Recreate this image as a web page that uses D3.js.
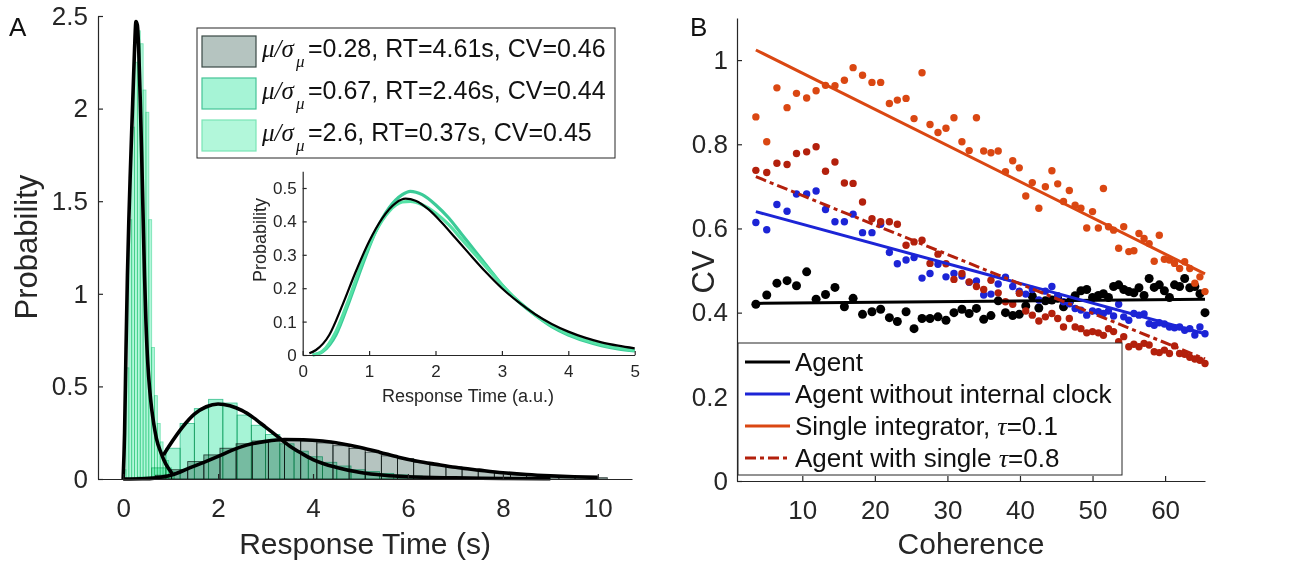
<!DOCTYPE html>
<html>
<head>
<meta charset="utf-8">
<script src="https://cdn.jsdelivr.net/npm/d3@7/dist/d3.min.js"></script>
<style>
body { margin: 0; background: #fff; }
svg { font-family: Arial, "Liberation Sans", sans-serif; }
</style>
</head>
<body>
<svg id="fig" width="1290" height="563"></svg>
<script>
// ---------- panel A data ----------
const binW1 = 0.34; // mu/sigma = 0.28
const hist1 = [0.0, 0.005, 0.02, 0.05, 0.094, 0.13, 0.166, 0.19, 0.205, 0.21, 0.21, 0.205, 0.195, 0.18, 0.165,
    0.145, 0.125, 0.11, 0.09, 0.075, 0.065, 0.05, 0.04, 0.032, 0.024, 0.02, 0.015, 0.012, 0.009, 0.007];
const binW2 = 0.3; // mu/sigma = 0.67
const hist2 = [0.0, 0.01, 0.06, 0.166, 0.30, 0.38, 0.43, 0.41, 0.345, 0.29, 0.24, 0.19, 0.15, 0.12, 0.09,
    0.07, 0.05, 0.04, 0.03, 0.022, 0.016, 0.012, 0.009, 0.007, 0.005, 0.004, 0.003, 0.002, 0.002, 0.001];
const binW3 = 0.06; // mu/sigma = 2.6
const hist3 = [0.05, 0.6, 1.4, 1.9, 2.25, 2.42, 2.35, 2.1, 1.98, 1.4, 0.71, 0.45, 0.3, 0.2, 0.14, 0.1, 0.06, 0.04];

const fit1X = [0, 0.4, 0.7, 1.0, 1.2, 1.4, 1.7, 2.0, 2.3, 2.6, 3.0, 3.4, 3.8, 4.2, 4.6, 5.0, 5.4, 5.8, 6.2, 6.6, 7.0, 7.5, 8.0, 8.5, 9.0, 9.5, 10.0];
const fit1Y = [0, 0.001, 0.006, 0.02, 0.038, 0.06, 0.09, 0.122, 0.156, 0.183, 0.203, 0.213, 0.212, 0.205, 0.19, 0.17, 0.145, 0.118, 0.096, 0.079, 0.063, 0.048, 0.034, 0.024, 0.017, 0.012, 0.009];
const fit2X = [0.85, 1.0, 1.25, 1.5, 1.75, 2.0, 2.25, 2.5, 2.75, 3.0, 3.25, 3.5, 3.75, 4.0, 4.5, 5.0, 5.5, 6.0, 7.0, 8.0, 9.0];
const fit2Y = [0.13, 0.19, 0.28, 0.35, 0.39, 0.405, 0.395, 0.37, 0.33, 0.28, 0.23, 0.18, 0.14, 0.105, 0.062, 0.035, 0.02, 0.012, 0.006, 0.003, 0.001];
const fit3X = [0.0, 0.03, 0.06, 0.09, 0.12, 0.15, 0.18, 0.21, 0.24, 0.27, 0.3, 0.33, 0.36, 0.39, 0.42, 0.45, 0.48, 0.52, 0.56, 0.6, 0.65, 0.7, 0.8, 0.9, 1.0, 1.05];
const fit3Y = [0, 0.25, 0.7, 1.1, 1.4, 1.65, 1.88, 2.1, 2.32, 2.47, 2.45, 2.3, 2.05, 1.75, 1.42, 1.1, 0.85, 0.62, 0.48, 0.38, 0.29, 0.22, 0.14, 0.08, 0.04, 0.02];

const legendA = [
    { sub: "=0.28, RT=4.61s, CV=0.46" },
    { sub: "=0.67, RT=2.46s, CV=0.44" },
    { sub: "=2.6, RT=0.37s, CV=0.45" }
];
const ticksAx = [0, 2, 4, 6, 8, 10];
const ticksAy = [0, 0.5, 1, 1.5, 2, 2.5];

// inset
const insetX = [0.1, 0.2, 0.4, 0.6, 0.8, 1.0, 1.2, 1.4, 1.55, 1.7, 1.9, 2.1, 2.3, 2.5, 2.75, 3.0, 3.25, 3.5, 3.75, 4.0, 4.25, 4.5, 4.75, 5.0];
const insetBlack = [0.005, 0.015, 0.06, 0.15, 0.25, 0.34, 0.41, 0.455, 0.468, 0.462, 0.435, 0.395, 0.35, 0.305, 0.25, 0.2, 0.158, 0.122, 0.093, 0.07, 0.052, 0.038, 0.028, 0.02];
const insetGreenX = [0.15, 0.3, 0.5, 0.7, 0.9, 1.1, 1.3, 1.5, 1.62, 1.8, 2.0, 2.2, 2.4, 2.6, 2.8, 3.0, 3.25, 3.5, 3.75, 4.0, 4.25, 4.5, 4.75, 5.0];
const insetGreen1 = [0.0, 0.01, 0.06, 0.16, 0.27, 0.37, 0.44, 0.48, 0.49, 0.48, 0.45, 0.41, 0.36, 0.31, 0.26, 0.21, 0.16, 0.12, 0.085, 0.06, 0.042, 0.028, 0.018, 0.012];
const insetGreen2 = [0.0, 0.012, 0.07, 0.17, 0.28, 0.37, 0.43, 0.458, 0.46, 0.45, 0.425, 0.39, 0.345, 0.3, 0.255, 0.21, 0.16, 0.12, 0.088, 0.063, 0.045, 0.031, 0.021, 0.014];
const insetTicksX = [0, 1, 2, 3, 4, 5];
const insetTicksY = [0, 0.1, 0.2, 0.3, 0.4, 0.5];

// ---------- panel B data ----------
const coherence = [3.6, 5.1, 6.5, 7.9, 9.2, 10.6, 11.9, 13.2, 14.5, 15.8, 17.0, 18.3, 19.6, 20.8, 22.0, 23.1,
    24.3, 25.4, 26.5, 27.6, 28.7, 29.8, 30.9, 32.0, 33.0, 34.0, 35.0, 36.0, 37.0, 38.0, 39.0, 39.9, 40.8, 41.7,
    42.6, 43.5, 44.4, 45.2, 46.0, 46.8, 47.6, 48.4, 49.2, 50.0, 50.8, 51.5, 52.2, 52.9, 53.6, 54.3, 55.0, 55.7,
    56.4, 57.1, 57.8, 58.5, 59.2, 59.9, 60.6, 61.3, 62.0, 62.7, 63.4, 64.1, 64.8, 65.5];
const agentCV = [0.420, 0.442, 0.470, 0.476, 0.464, 0.497, 0.432, 0.443, 0.460, 0.414, 0.434, 0.396, 0.402, 0.408, 0.388, 0.379,
    0.402, 0.362, 0.386, 0.386, 0.390, 0.382, 0.400, 0.408, 0.398, 0.410, 0.384, 0.393, 0.428, 0.400, 0.393, 0.396, 0.416, 0.439,
    0.411, 0.428, 0.430, 0.434, 0.414, 0.425, 0.440, 0.452, 0.455, 0.436, 0.441, 0.445, 0.436, 0.462, 0.466, 0.455, 0.450, 0.447,
    0.459, 0.441, 0.481, 0.460, 0.466, 0.452, 0.436, 0.466, 0.462, 0.481, 0.459, 0.462, 0.445, 0.400];
const noClockCV = [0.614, 0.597, 0.657, 0.641, 0.682, 0.682, 0.689, 0.645, 0.616, 0.616, 0.634, 0.590, 0.590, 0.610, 0.543, 0.516,
    0.525, 0.531, 0.482, 0.493, 0.515, 0.485, 0.493, 0.487, 0.472, 0.475, 0.442, 0.444, 0.468, 0.484, 0.462, 0.451, 0.444, 0.455,
    0.430, 0.451, 0.462, 0.440, 0.426, 0.421, 0.410, 0.406, 0.394, 0.404, 0.402, 0.398, 0.404, 0.392, 0.420, 0.390, 0.382, 0.398,
    0.394, 0.397, 0.374, 0.370, 0.376, 0.373, 0.366, 0.364, 0.366, 0.358, 0.362, 0.347, 0.366, 0.350];
const singleIntCV = [0.865, 0.806, 0.934, 0.887, 0.921, 0.910, 0.927, 0.940, 0.939, 0.952, 0.982, 0.964, 0.947, 0.947, 0.897, 0.905,
    0.909, 0.861, 0.970, 0.847, 0.828, 0.838, 0.863, 0.806, 0.785, 0.863, 0.784, 0.780, 0.784, 0.735, 0.761, 0.744, 0.677, 0.709,
    0.648, 0.699, 0.737, 0.706, 0.664, 0.690, 0.655, 0.648, 0.601, 0.640, 0.601, 0.695, 0.604, 0.596, 0.553, 0.604, 0.545, 0.547,
    0.588, 0.576, 0.564, 0.522, 0.584, 0.527, 0.525, 0.517, 0.505, 0.521, 0.505, 0.470, 0.485, 0.450];
const singleTauCV = [0.738, 0.733, 0.755, 0.752, 0.778, 0.782, 0.794, 0.736, 0.758, 0.708, 0.707, 0.663, 0.623, 0.616, 0.616, 0.610,
    0.560, 0.568, 0.572, 0.517, 0.539, 0.516, 0.479, 0.493, 0.473, 0.462, 0.455, 0.477, 0.447, 0.426, 0.420, 0.446, 0.404, 0.394,
    0.380, 0.390, 0.398, 0.386, 0.366, 0.386, 0.366, 0.362, 0.352, 0.355, 0.352, 0.346, 0.362, 0.355, 0.331, 0.343, 0.319, 0.325,
    0.319, 0.327, 0.323, 0.307, 0.305, 0.311, 0.303, 0.321, 0.303, 0.301, 0.294, 0.290, 0.287, 0.279];

const fitX = [3.6, 65.5];
const agentFit = [0.422, 0.432];
const noClockFit = [0.64, 0.35];
const singleIntFit = [1.024, 0.492];
const singleTauFit = [0.723, 0.29];

const legendB = ["Agent", "Agent without internal clock", "Single integrator, ", "Agent with single "];
const ticksBx = [10, 20, 30, 40, 50, 60];
const ticksBy = [0, 0.2, 0.4, 0.6, 0.8, 1];

// ---------- drawing ----------
const svg = d3.select("#fig");
const axisColor = "#262626";

function styleAxis(g, fontSize) {
    g.select(".domain").attr("stroke", axisColor).attr("stroke-width", 1.2);
    g.selectAll(".tick line").attr("stroke", axisColor).attr("stroke-width", 1.2);
    g.selectAll(".tick text").attr("fill", axisColor).style("font-size", fontSize + "px")
        .style("font-family", "Arial, 'Liberation Sans', sans-serif");
}

// panel A
const xA = d3.scaleLinear().domain([-0.53, 10.72]).range([98, 632]);
const yA = d3.scaleLinear().domain([0, 2.5]).range([479, 16]);

const histSets = [
    { w: binW1, h: hist1, fill: "#b5c4c0", edge: "#3a4945" },
    { w: binW2, h: hist2, fill: "#a6f4d6", edge: "#45c496" },
    { w: binW3, h: hist3, fill: "#b2f7da", edge: "#7ae4b6" }
];

const barsA = svg.append("g");
histSets.forEach(s => {
    barsA.append("g").selectAll("rect").data(s.h)
        .join("rect")
        .attr("x", (d, i) => xA(i * s.w))
        .attr("width", (d, i) => xA((i + 1) * s.w) - xA(i * s.w))
        .attr("y", d => yA(d))
        .attr("height", d => yA(0) - yA(d))
        .attr("fill", s.fill)
        .attr("stroke", s.edge)
        .attr("stroke-width", 0.9)
        .style("mix-blend-mode", "multiply");
});

const lineA = d3.line().x(d => xA(d[0])).y(d => yA(d[1])).curve(d3.curveMonotoneX);
[[fit1X, fit1Y], [fit2X, fit2Y], [fit3X, fit3Y]].forEach(f => {
    svg.append("path")
        .attr("d", lineA(d3.zip(f[0], f[1])))
        .attr("fill", "none")
        .attr("stroke", "#000")
        .attr("stroke-width", 3.6)
        .attr("stroke-linejoin", "round");
});

svg.append("g").attr("transform", "translate(0,479)")
    .call(d3.axisBottom(xA).tickValues(ticksAx).tickSize(-5).tickSizeOuter(0).tickPadding(20).tickFormat(d => String(d)))
    .call(g => styleAxis(g, 26));
svg.append("g").attr("transform", "translate(98,0)")
    .call(d3.axisLeft(yA).tickValues(ticksAy).tickSize(-5).tickSizeOuter(0).tickPadding(10).tickFormat(d => String(d)))
    .call(g => styleAxis(g, 26));

svg.append("text").attr("x", 365).attr("y", 554).attr("text-anchor", "middle")
    .style("font-size", "30px").attr("fill", axisColor).text("Response Time (s)");
svg.append("text").attr("transform", "translate(37,247) rotate(-90)").attr("text-anchor", "middle")
    .style("font-size", "31px").attr("fill", axisColor).text("Probability");
svg.append("text").attr("x", 9).attr("y", 36).style("font-size", "26px").attr("fill", "#111").text("A");

// legend A
const legA = svg.append("g");
legA.append("rect").attr("x", 197).attr("y", 28).attr("width", 418).attr("height", 130)
    .attr("fill", "#fff").attr("stroke", axisColor).attr("stroke-width", 1);
legendA.forEach((d, i) => {
    const s = histSets[i];
    const y0 = 36 + i * 42;
    legA.append("rect").attr("x", 202).attr("y", y0).attr("width", 54).attr("height", 31)
        .attr("fill", s.fill).attr("stroke", s.edge).attr("stroke-width", 1.2);
    const t = legA.append("text").attr("x", 262).attr("y", y0 + 21).style("font-size", "25px").attr("fill", "#111");
    t.append("tspan").style("font-family", "'Liberation Serif', serif").style("font-style", "italic").text("\u03bc/\u03c3");
    t.append("tspan").attr("x", 296).attr("dy", 10).style("font-family", "'Liberation Serif', serif")
        .style("font-style", "italic").style("font-size", "17px").text("\u03bc");
    t.append("tspan").attr("x", 308).attr("dy", -10).text(d.sub);
});

// inset
const xI = d3.scaleLinear().domain([0, 5]).range([302.7, 634.7]);
const yI = d3.scaleLinear().domain([0, 0.55]).range([355, 171.3]);
const lineI = d3.line().x(d => xI(d[0])).y(d => yI(d[1])).curve(d3.curveMonotoneX);
svg.append("path").attr("d", lineI(d3.zip(insetGreenX, insetGreen1)))
    .attr("fill", "none").attr("stroke", "#3ccb98").attr("stroke-width", 3.2);
svg.append("path").attr("d", lineI(d3.zip(insetGreenX, insetGreen2)))
    .attr("fill", "none").attr("stroke", "#55e2a6").attr("stroke-width", 3.2);
svg.append("path").attr("d", lineI(d3.zip(insetX, insetBlack)))
    .attr("fill", "none").attr("stroke", "#000").attr("stroke-width", 2.2);
svg.append("g").attr("transform", "translate(0,355)")
    .call(d3.axisBottom(xI).tickValues(insetTicksX).tickSize(-4).tickSizeOuter(0).tickPadding(10).tickFormat(d => String(d)))
    .call(g => styleAxis(g, 17));
svg.append("g").attr("transform", "translate(302.7,0)")
    .call(d3.axisLeft(yI).tickValues(insetTicksY).tickSize(-4).tickSizeOuter(0).tickPadding(6).tickFormat(d => String(d)))
    .call(g => styleAxis(g, 17));
svg.append("text").attr("x", 468).attr("y", 402).attr("text-anchor", "middle")
    .style("font-size", "18px").attr("fill", axisColor).text("Response Time (a.u.)");
svg.append("text").attr("transform", "translate(266,240) rotate(-90)").attr("text-anchor", "middle")
    .style("font-size", "18px").attr("fill", axisColor).text("Probability");

// panel B
const xB = d3.scaleLinear().domain([1, 65.5]).range([737, 1205]);
const yB = d3.scaleLinear().domain([0, 1.1]).range([481, 18]);

const seriesB = [
    { v: agentCV, fit: agentFit, color: "#000000", r: 4.5, dash: null },
    { v: noClockCV, fit: noClockFit, color: "#1c24d6", r: 3.7, dash: null },
    { v: singleIntCV, fit: singleIntFit, color: "#da4712", r: 3.7, dash: null },
    { v: singleTauCV, fit: singleTauFit, color: "#b3200c", r: 3.7, dash: "11,4,4,4" }
];

seriesB.forEach(s => {
    svg.append("g").selectAll("circle").data(d3.zip(coherence, s.v))
        .join("circle")
        .attr("cx", d => xB(d[0]))
        .attr("cy", d => yB(d[1]))
        .attr("r", s.r)
        .attr("fill", s.color);
});
seriesB.forEach(s => {
    svg.append("line")
        .attr("x1", xB(fitX[0])).attr("y1", yB(s.fit[0]))
        .attr("x2", xB(fitX[1])).attr("y2", yB(s.fit[1]))
        .attr("stroke", s.color).attr("stroke-width", 3)
        .attr("stroke-dasharray", s.dash);
});

svg.append("g").attr("transform", "translate(0,481)")
    .call(d3.axisBottom(xB).tickValues(ticksBx).tickSize(-5).tickSizeOuter(0).tickPadding(20).tickFormat(d => String(d)))
    .call(g => styleAxis(g, 26));
svg.append("g").attr("transform", "translate(737,0)")
    .call(d3.axisLeft(yB).tickValues(ticksBy).tickSize(-5).tickSizeOuter(0).tickPadding(9).tickFormat(d => String(d)))
    .call(g => styleAxis(g, 26));

svg.append("text").attr("x", 971).attr("y", 554).attr("text-anchor", "middle")
    .style("font-size", "30px").attr("fill", axisColor).text("Coherence");
svg.append("text").attr("transform", "translate(714,272) rotate(-90)").attr("text-anchor", "middle")
    .style("font-size", "31px").attr("fill", axisColor).text("CV");
svg.append("text").attr("x", 690).attr("y", 36).style("font-size", "26px").attr("fill", "#111").text("B");

// legend B
const legB = svg.append("g");
legB.append("rect").attr("x", 738).attr("y", 343).attr("width", 384).attr("height", 132)
    .attr("fill", "#fff").attr("stroke", axisColor).attr("stroke-width", 1);
legendB.forEach((name, i) => {
    const s = seriesB[i];
    const yb = 371 + i * 32;
    legB.append("line").attr("x1", 745).attr("x2", 790).attr("y1", yb - 9).attr("y2", yb - 9)
        .attr("stroke", s.color).attr("stroke-width", 3).attr("stroke-dasharray", s.dash);
    const t = legB.append("text").attr("x", 795).attr("y", yb).style("font-size", "26px").attr("fill", "#111").text(name);
    if (i === 2 || i === 3) {
        t.append("tspan").style("font-family", "'Liberation Serif', serif").style("font-style", "italic").text("\u03c4");
        t.append("tspan").text(i === 2 ? "=0.1" : "=0.8");
    }
});
</script>
</body>
</html>
